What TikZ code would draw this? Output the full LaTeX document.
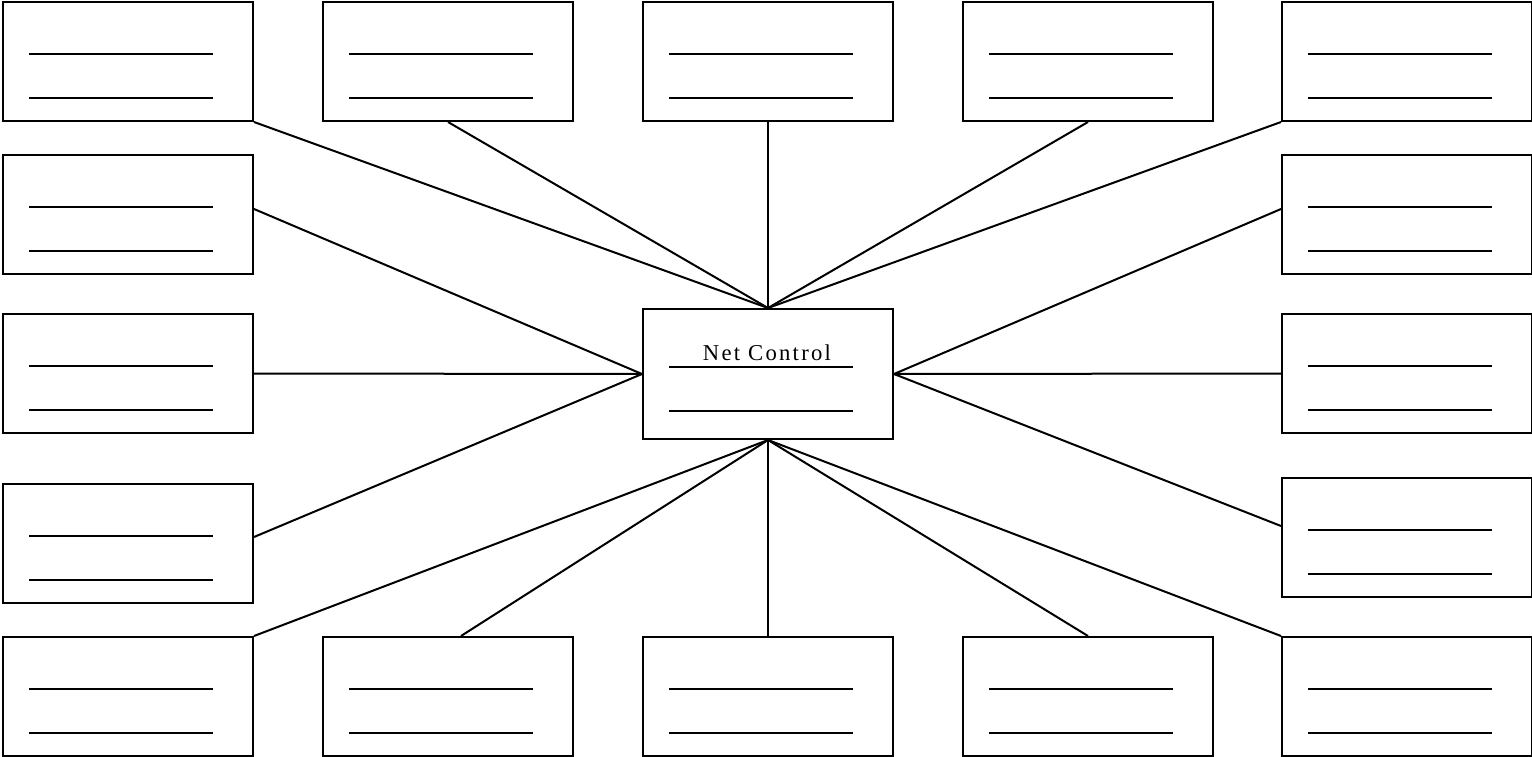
\documentclass[tikz,border=0pt]{standalone}
\usepackage{fontspec}
\setmainfont{Liberation Serif}
\newfontfamily\spacedserif[LetterSpace=10]{Liberation Serif}
\usetikzlibrary{calc}
\tikzset{
  box/.style={draw, line width=1.5pt, minimum width=187.5pt, minimum height=89.25pt, inner sep=0pt, anchor=north west},
  centerbox/.style={box, minimum height=97.5pt},
  rule/.style={line width=1.5pt},
  link/.style={line width=1.5pt},
  lbl/.style={font=\spacedserif\fontsize{17}{20}\selectfont, anchor=base, inner sep=0pt}
}
\begin{document}
\begin{tikzpicture}[x=0.75pt,y=-0.75pt]
\useasboundingbox (0,0) rectangle (1532,757);
\foreach \n/\x/\y in {T1/2/1, T2/322/1, T3/642/1, T4/962/1, T5/1281/1,
                      L2/2/154, L3/2/313, L4/2/483,
                      R2/1281/154, R3/1281/313, R4/1281/477,
                      B1/2/636, B2/322/636, B3/642/636, B4/962/636, B5/1281/636} {
  \node[box] (\n) at (\x,\y) {};
  \draw[rule] ($(\n.north west)+(27,53)$) -- ++(184,0);
  \draw[rule] ($(\n.north west)+(27,97)$) -- ++(184,0);
}
\node[centerbox] (C) at (642,308) {};
\draw[rule] ($(C.north west)+(27,59)$) -- ++(184,0);
\draw[rule] ($(C.north west)+(27,103)$) -- ++(184,0);
\node[lbl] (title) at (767,360) {Net Control};
% top connectors
\draw[link] (T1.south east) -- (C.north);
\draw[link] (T2.south) -- (C.north);
\draw[link] (T3.south) -- (C.north);
\draw[link] (T4.south) -- (C.north);
\draw[link] (T5.south west) -- (C.north);
% left connectors
\draw[link] ($(L2.north east)+(0,55)$) -- (C.west);
\draw[link] (L3.east) -- (C.west);
\draw[link] ($(L4.north east)+(0,54)$) -- (C.west);
% right connectors
\draw[link] ($(R2.north west)+(0,55)$) -- (C.east);
\draw[link] (R3.west) -- (C.east);
\draw[link] ($(R4.north west)+(0,49)$) -- (C.east);
% bottom connectors
\draw[link] (B1.north east) -- (C.south);
\draw[link] ($(B2.north west)+(139,0)$) -- (C.south);
\draw[link] (B3.north) -- (C.south);
\draw[link] (B4.north) -- (C.south);
\draw[link] (B5.north west) -- (C.south);
\end{tikzpicture}
\end{document}
